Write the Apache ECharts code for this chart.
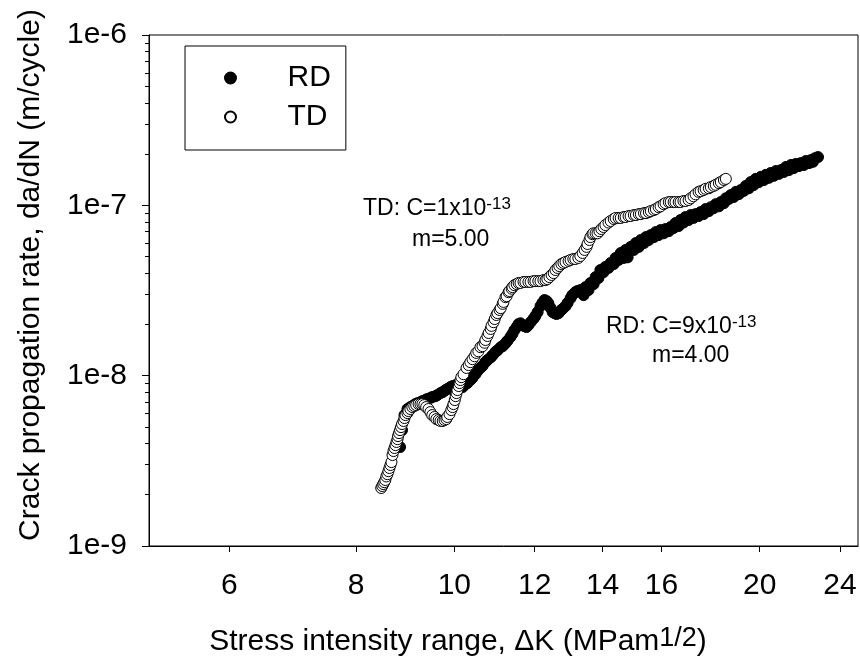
<!DOCTYPE html>
<html><head><meta charset="utf-8">
<script src="https://cdn.jsdelivr.net/npm/echarts@6/dist/echarts.min.js"></script>
<style>html,body{margin:0;padding:0;background:#fff}#c{width:860px;height:671px}</style>
</head><body><div id="c"></div>
<script>
const FONT = '"Liberation Sans", Arial, sans-serif';
const xTicks = [6, 8, 10, 12, 14, 16, 20, 24];
const yMajorTicks = [1e-9, 1e-8, 1e-7, 1e-6];
const yMinorTicks = [2e-9,3e-9,4e-9,5e-9,6e-9,7e-9,8e-9,9e-9,
  2e-8,3e-8,4e-8,5e-8,6e-8,7e-8,8e-8,9e-8,
  2e-7,3e-7,4e-7,5e-7,6e-7,7e-7,8e-7,9e-7];

// RD (filled) - main track
const rdK = [8.84,8.88,8.93,8.99,9.05,9.15,9.26,9.36,9.47,9.58,9.69,9.80,9.91,10.03,10.14,10.26,10.37,10.49,10.61,10.73,10.86,10.98,11.11,11.23,11.36,11.46,11.57,11.67,11.78,11.89,12.02,12.16,12.27,12.38,12.50,12.61,12.72,12.87,13.02,13.16,13.31,13.47,13.62,13.78,13.93,14.09,14.26,14.42,14.59,14.75,14.92,15.10,15.27,15.45,15.62,15.80,15.97,16.15,16.34,16.52,16.71,16.90,17.10,17.29,17.49,17.69,17.90,18.10,18.31,18.52,18.73,18.95,19.16,19.38,19.60,19.82,20.05,20.28,20.51,20.75,20.99,21.23,21.47,21.71,21.96,22.21,22.47,22.67,22.83];
const rdRate = [3.81e-9,4.79e-9,5.87e-9,6.37e-9,6.54e-9,6.81e-9,6.99e-9,7.19e-9,7.40e-9,7.58e-9,7.90e-9,8.23e-9,8.57e-9,8.81e-9,8.69e-9,8.93e-9,9.42e-9,1.02e-8,1.11e-8,1.20e-8,1.28e-8,1.38e-8,1.47e-8,1.55e-8,1.69e-8,1.85e-8,2.01e-8,1.98e-8,1.93e-8,2.06e-8,2.24e-8,2.56e-8,2.78e-8,2.66e-8,2.36e-8,2.30e-8,2.40e-8,2.56e-8,2.85e-8,3.09e-8,3.18e-8,3.31e-8,3.50e-8,3.79e-8,4.17e-8,4.35e-8,4.59e-8,4.91e-8,5.25e-8,5.47e-8,5.70e-8,6.01e-8,6.26e-8,6.51e-8,6.69e-8,6.97e-8,7.16e-8,7.26e-8,7.46e-8,7.87e-8,8.20e-8,8.54e-8,8.77e-8,8.88e-8,9.13e-8,9.51e-8,9.75e-8,1.016e-7,1.045e-7,1.10e-7,1.149e-7,1.20e-7,1.23e-7,1.30e-7,1.37e-7,1.43e-7,1.47e-7,1.51e-7,1.55e-7,1.59e-7,1.61e-7,1.68e-7,1.725e-7,1.75e-7,1.77e-7,1.82e-7,1.845e-7,1.89e-7,1.92e-7];
// RD - further points read between / below the main track
const rdK2 = [9.09,9.20,9.30,9.40,9.51,9.62,9.74,9.84,9.96,10.07,10.19,10.30,10.42,10.54,10.66,10.78,10.91,11.03,11.16,11.28,11.41,11.52,11.62,11.73,11.83,11.97,12.08,12.21,12.33,12.44,12.55,12.67,12.78,12.93,13.07,13.22,13.41,13.56,13.72,13.87,14.03,14.19,14.36,14.52,14.69,14.82,15.03,15.20,15.38,15.55,15.73,15.90,16.08,16.27,16.45,16.64,16.82,17.02,17.21,17.41,17.61,17.82,18.02,18.23,18.44,18.65,18.86,19.08,19.29,19.51,19.73,19.96,20.19,20.42,20.65,20.89,21.13,21.37,21.61,21.86,22.11,22.37,22.57];
const rdRate2 = [6.63e-9,6.90e-9,7.09e-9,7.29e-9,7.49e-9,7.69e-9,8.01e-9,8.34e-9,8.69e-9,8.81e-9,8.57e-9,9.05e-9,9.72e-9,1.065e-8,1.14e-8,1.235e-8,1.32e-8,1.41e-8,1.49e-8,1.60e-8,1.76e-8,1.93e-8,2.03e-8,1.95e-8,1.98e-8,2.16e-8,2.36e-8,2.67e-8,2.74e-8,2.50e-8,2.33e-8,2.33e-8,2.46e-8,2.67e-8,2.97e-8,3.14e-8,2.97e-8,3.18e-8,3.45e-8,3.74e-8,4.05e-8,4.29e-8,4.52e-8,4.78e-8,4.91e-8,4.95e-8,5.47e-8,5.70e-8,6.01e-8,6.26e-8,6.51e-8,6.69e-8,6.85e-8,7.05e-8,7.36e-8,7.56e-8,7.92e-8,8.20e-8,8.43e-8,8.65e-8,8.88e-8,9.25e-8,9.63e-8,9.87e-8,1.03e-7,1.09e-7,1.12e-7,1.165e-7,1.215e-7,1.26e-7,1.316e-7,1.37e-7,1.408e-7,1.45e-7,1.49e-7,1.53e-7,1.57e-7,1.61e-7,1.655e-7,1.70e-7,1.725e-7,1.77e-7,1.80e-7];

// TD (open) - main track
const tdK = [8.47,8.51,8.55,8.59,8.63,8.67,8.69,8.73,8.77,8.80,8.84,8.88,8.93,8.99,9.05,9.13,9.22,9.30,9.38,9.47,9.56,9.65,9.74,9.82,9.89,9.96,10.01,10.05,10.10,10.14,10.21,10.28,10.37,10.47,10.56,10.66,10.73,10.81,10.88,10.96,11.03,11.11,11.18,11.26,11.33,11.41,11.52,11.62,11.75,11.89,12.02,12.16,12.30,12.41,12.53,12.64,12.75,12.87,13.02,13.16,13.31,13.44,13.53,13.62,13.71,13.84,13.96,14.09,14.26,14.42,14.59,14.75,14.92,15.10,15.27,15.45,15.62,15.80,15.97,16.15,16.34,16.52,16.71,16.90,17.10,17.29,17.49,17.69,17.90,18.10,18.31,18.52];
const tdRate = [2.19e-9,2.31e-9,2.44e-9,2.64e-9,2.87e-9,3.11e-9,3.42e-9,3.76e-9,4.08e-9,4.42e-9,4.79e-9,5.20e-9,5.64e-9,6.03e-9,6.37e-9,6.63e-9,6.81e-9,6.81e-9,6.54e-9,6.11e-9,5.72e-9,5.49e-9,5.42e-9,5.56e-9,5.95e-9,6.54e-9,7.19e-9,7.90e-9,8.69e-9,9.42e-9,1.02e-8,1.11e-8,1.20e-8,1.30e-8,1.39e-8,1.49e-8,1.62e-8,1.78e-8,1.96e-8,2.15e-8,2.33e-8,2.49e-8,2.71e-8,2.93e-8,3.14e-8,3.31e-8,3.45e-8,3.50e-8,3.55e-8,3.55e-8,3.59e-8,3.59e-8,3.64e-8,3.79e-8,4.00e-8,4.29e-8,4.52e-8,4.65e-8,4.78e-8,4.84e-8,5.04e-8,5.47e-8,5.93e-8,6.51e-8,6.85e-8,6.85e-8,7.26e-8,7.66e-8,8.09e-8,8.43e-8,8.43e-8,8.54e-8,8.65e-8,8.77e-8,8.88e-8,9.00e-8,9.25e-8,9.51e-8,9.87e-8,1.03e-7,1.045e-7,1.045e-7,1.045e-7,1.06e-7,1.10e-7,1.16e-7,1.21e-7,1.25e-7,1.28e-7,1.32e-7,1.37e-7,1.43e-7];
// TD - further points read between the main-track readings
const tdK2 = [8.49,8.53,8.57,8.61,8.65,8.71,8.75,8.79,8.82,8.86,8.91,8.95,9.01,9.09,9.17,9.26,9.34,9.43,9.51,9.60,9.69,9.78,9.84,9.93,9.98,10.03,10.07,10.12,10.16,10.33,10.42,10.51,10.61,10.71,10.78,10.86,10.93,11.00,11.08,11.16,11.23,11.31,11.39,11.46,11.57,11.70,11.83,11.97,12.10,12.24,12.35,12.47,12.58,12.69,12.81,12.96,13.10,13.25,13.38,13.50,13.59,13.68,13.78,13.90,14.03,14.19,14.36,14.52,14.69,14.85,15.03,15.20,15.38,15.55,15.73,15.90,16.08,16.27,16.45,16.64,16.82,17.02,17.21,17.41,17.61,17.82,18.02,18.23,18.44];
const tdRate2 = [2.25e-9,2.37e-9,2.56e-9,2.75e-9,2.99e-9,3.61e-9,3.91e-9,4.24e-9,4.60e-9,4.99e-9,5.42e-9,5.87e-9,6.20e-9,6.54e-9,6.72e-9,6.81e-9,6.72e-9,6.37e-9,5.87e-9,5.56e-9,5.42e-9,5.49e-9,5.72e-9,6.28e-9,6.81e-9,7.58e-9,8.23e-9,9.05e-9,9.80e-9,1.154e-8,1.25e-8,1.36e-8,1.47e-8,1.56e-8,1.71e-8,1.88e-8,2.06e-8,2.27e-8,2.43e-8,2.64e-8,2.89e-8,3.09e-8,3.24e-8,3.40e-8,3.50e-8,3.55e-8,3.55e-8,3.59e-8,3.59e-8,3.64e-8,3.69e-8,3.90e-8,4.17e-8,4.40e-8,4.59e-8,4.72e-8,4.84e-8,4.91e-8,5.25e-8,5.70e-8,6.26e-8,6.77e-8,6.85e-8,7.05e-8,7.46e-8,7.92e-8,8.31e-8,8.43e-8,8.54e-8,8.65e-8,8.77e-8,8.88e-8,9.00e-8,9.13e-8,9.38e-8,9.75e-8,1.016e-7,1.045e-7,1.045e-7,1.045e-7,1.06e-7,1.074e-7,1.13e-7,1.20e-7,1.23e-7,1.26e-7,1.30e-7,1.35e-7,1.408e-7];

const seriesNames = ['RD', 'TD'];
const xTitle = ['Stress intensity range, \u0394K (MPam', '1/2', ')'];
const yTitle = 'Crack propagation rate, da/dN (m/cycle)';
const tdNote = ['TD: C=1x10', '-13', 'm=5.00'];
const rdNote = ['RD: C=9x10', '-13', 'm=4.00'];

const chart = echarts.init(document.getElementById('c'), null, {renderer: 'canvas'});
const pairs = (a, b) => a.map((v, i) => [v, b[i]]);
const merged = (a, b, c, d) => pairs(a, b).concat(pairs(c, d)).sort((p, q) => p[0] - q[0]);
const noteRich = {
  n: {fontSize: 23, fontFamily: FONT, fill: '#000', lineHeight: 24, verticalAlign: 'bottom'},
  s: {fontSize: 17, fontFamily: FONT, fill: '#000', lineHeight: 17, padding: [0, 0, 14, 0], verticalAlign: 'top'}
};
const option = {
  animation: false,
  backgroundColor: '#fff',
  grid: {left: 149, right: 2, top: 35, bottom: 125, show: true, borderColor: '#000', borderWidth: 1, backgroundColor: 'transparent'},
  legend: {
    left: 185, top: 46, orient: 'vertical',
    data: seriesNames,
    borderColor: '#000', borderWidth: 1, borderRadius: 0,
    padding: [17, 15, 18, 39],
    itemGap: 9, itemWidth: 20, itemHeight: 11,
    textStyle: {fontSize: 30, fontFamily: FONT, color: '#000', padding: [0, 0, 0, 42]}
  },
  xAxis: {
    type: 'log', min: 5, max: 25,
    axisLine: {lineStyle: {color: '#000', width: 1}},
    axisTick: {customValues: xTicks, length: 6, lineStyle: {color: '#000'}},
    axisLabel: {customValues: xTicks, fontSize: 30, fontFamily: FONT, color: '#000', margin: 25,
      formatter: v => String(Math.round(v))},
    splitLine: {show: false}, minorTick: {show: false}
  },
  yAxis: [{
    type: 'log', min: 1e-9, max: 1e-6, position: 'left',
    axisLine: {lineStyle: {color: '#000', width: 1}},
    axisTick: {customValues: yMajorTicks, length: 7, lineStyle: {color: '#000'}},
    axisLabel: {customValues: yMajorTicks, fontSize: 30, fontFamily: FONT, color: '#000', margin: 22,
      formatter: v => '1e' + Math.round(Math.log10(v))},
    splitLine: {show: false}
  }, {
    type: 'log', min: 1e-9, max: 1e-6, position: 'left', offset: 0,
    axisLine: {show: false},
    axisTick: {customValues: yMinorTicks, length: 4, lineStyle: {color: '#000'}},
    axisLabel: {show: false},
    splitLine: {show: false}
  }],
  series: [{
    name: seriesNames[0], type: 'scatter', symbol: 'circle', symbolSize: 11,
    itemStyle: {color: '#000', borderColor: '#000', borderWidth: 1, opacity: 1},
    data: merged(rdK, rdRate, rdK2, rdRate2)
  }, {
    name: seriesNames[1], type: 'scatter', symbol: 'circle', symbolSize: 11,
    itemStyle: {color: '#fff', borderColor: '#000', borderWidth: 1, opacity: 1},
    data: merged(tdK, tdRate, tdK2, tdRate2)
  }],
  graphic: [
    {type: 'text', x: 31, y: 275, rotation: Math.PI / 2,
      style: {text: yTitle, fontSize: 30, fontFamily: FONT, fill: '#000', align: 'center', verticalAlign: 'middle'}},
    {type: 'text', x: 458, y: 641,
      style: {text: '{n|' + xTitle[0] + '}{s|' + xTitle[1] + '}{n|' + xTitle[2] + '}', align: 'center', verticalAlign: 'middle',
        rich: {
          n: {fontSize: 30, fontFamily: FONT, fill: '#000', lineHeight: 32, verticalAlign: 'bottom'},
          s: {fontSize: 27, fontFamily: FONT, fill: '#000', lineHeight: 27, padding: [0, 0, 18, 0], verticalAlign: 'top'}
        }}},
    {type: 'text', x: 363, y: 208,
      style: {text: '{n|' + tdNote[0] + '}{s|' + tdNote[1] + '}', align: 'left', verticalAlign: 'middle', rich: noteRich}},
    {type: 'text', x: 412, y: 240,
      style: {text: tdNote[2], fontSize: 23, fontFamily: FONT, fill: '#000', align: 'left', verticalAlign: 'middle'}},
    {type: 'text', x: 606, y: 326,
      style: {text: '{n|' + rdNote[0] + '}{s|' + rdNote[1] + '}', align: 'left', verticalAlign: 'middle', rich: noteRich}},
    {type: 'text', x: 652, y: 356,
      style: {text: rdNote[2], fontSize: 23, fontFamily: FONT, fill: '#000', align: 'left', verticalAlign: 'middle'}}
  ]
};
chart.setOption(option);
</script>
</body></html>
